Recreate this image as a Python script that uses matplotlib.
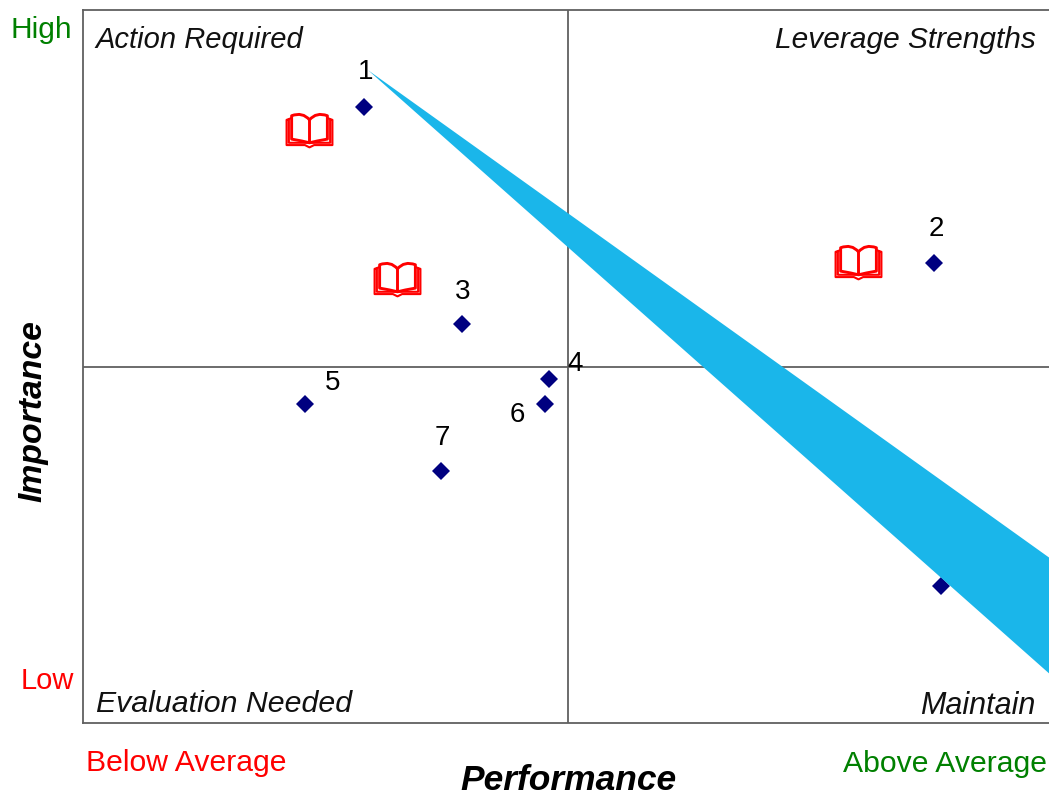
import matplotlib
matplotlib.use("Agg")
import matplotlib.pyplot as plt
from matplotlib.path import Path
from matplotlib.patches import Polygon

plt.rcParams["font.family"] = ["Liberation Sans", "DejaVu Sans"]

W, H = 1049, 799

# performance / importance, centred on the average (-1 to 1)
labels = ["1", "2", "3", "4", "5", "6", "7", "8"]
performance = [-0.420, 0.755, -0.219, -0.039, -0.542, -0.047, -0.262, 0.769]
importance = [0.729, 0.289, 0.118, -0.036, -0.104, -0.104, -0.292, -0.617]
label_dx = [1, 2, 1, 26, 27, -28, 1, 0]
label_dy = [35, 34, 32, 15, 21, -11, 33, 0]

book_x = [-0.534, 0.597, -0.352]
book_y = [0.665, 0.295, 0.247]

wedge_x = [-0.412, 0.992, 0.992]
wedge_y = [0.831, -0.536, -0.861]

quadrants = ["Action Required", "Leverage Strengths", "Evaluation Needed", "Maintain"]


def book_pages():
    """
    Inner outline of the open book marker: two pages with curved tops.
    """
    verts = [(0, 0.42), (-0.3, 0.78), (-0.78, 0.6), (-0.78, -0.42),
             (-0.3, -0.5), (0, -0.58), (0.3, -0.5), (0.78, -0.42),
             (0.78, 0.6), (0.3, 0.78), (0, 0.42), (0, -0.58)]
    codes = [Path.MOVETO, Path.CURVE3, Path.CURVE3, Path.LINETO,
             Path.CURVE3, Path.CURVE3, Path.CURVE3, Path.CURVE3,
             Path.LINETO, Path.CURVE3, Path.CURVE3, Path.LINETO]
    # keeps the marker scaled the same as the cover
    verts += [(-1, 0), (-1, 0)]
    codes += [Path.MOVETO, Path.LINETO]
    return Path(verts, codes)


def book_cover():
    """
    Outer outline of the open book marker.
    """
    verts = [(-0.78, 0.5), (-1, 0.42), (-1, -0.68), (-0.2, -0.68), (0, -0.78),
             (0.2, -0.68), (1, -0.68), (1, 0.42), (0.78, 0.5),
             (-0.9, 0.46), (-0.9, -0.58), (0.9, -0.58), (0.9, 0.46)]
    codes = [Path.MOVETO, Path.LINETO, Path.LINETO, Path.LINETO, Path.LINETO,
             Path.LINETO, Path.LINETO, Path.LINETO, Path.LINETO,
             Path.MOVETO, Path.LINETO, Path.LINETO, Path.LINETO]
    return Path(verts, codes)


def main():
    """
    Importance / performance quadrant chart.
    """
    fig = plt.figure(figsize=(W / 100, H / 100), dpi=100)
    ax = fig.add_axes([83 / W, (H - 723) / H, 970 / W, 713 / H])
    ax.set_xlim(-1, 1)
    ax.set_ylim(-1, 1)
    ax.set_xticks([])
    ax.set_yticks([])
    for spine in ax.spines.values():
        spine.set_color("#606060")
        spine.set_linewidth(1.3)

    ax.axvline(0, color="#606060", lw=1.3, zorder=1)
    ax.axhline(0, color="#606060", lw=1.3, zorder=1)

    ax.plot(performance, importance, ls="none", marker="D", ms=9,
            color="#000080", mew=0, zorder=2)
    ax.plot(book_x, book_y, ls="none", marker=book_cover(), ms=33,
            mfc="none", mec="#ff0000", mew=1.5, zorder=2)
    ax.plot(book_x, book_y, ls="none", marker=book_pages(), ms=33,
            mfc="none", mec="#ff0000", mew=2.1, zorder=2)

    for name, x, y, dx, dy in zip(labels, performance, importance, label_dx, label_dy):
        if name == "8":
            continue
        ax.annotate(name, (x, y), xytext=(dx * 0.72, dy * 0.72),
                    textcoords="offset points", ha="center", va="center",
                    fontsize=20, color="black", zorder=3)

    ax.add_patch(Polygon(list(zip(wedge_x, wedge_y)), closed=True,
                         facecolor="#1ab6ea", edgecolor="none", zorder=4))

    def put(px, py, text, **kw):
        fig.text(px / W, 1 - py / H, text, va="center", **kw)

    put(95, 40, quadrants[0], ha="left", fontsize=21, style="italic", color="#111111")
    put(1036, 40, quadrants[1], ha="right", fontsize=21.5, style="italic", color="#111111")
    put(96, 704, quadrants[2], ha="left", fontsize=21.8, style="italic", color="#111111")
    put(1035, 706, quadrants[3], ha="right", fontsize=22, style="italic", color="#111111")

    put(41, 30, "High", ha="center", fontsize=21.5, color="#008000")
    put(47, 681, "Low", ha="center", fontsize=21, color="#ff0000")
    put(86, 763, "Below Average", ha="left", fontsize=21.7, color="#ff0000")
    put(1047, 764, "Above Average", ha="right", fontsize=21.7, color="#008000")

    put(568, 781, "Performance", ha="center", fontsize=25.5, style="italic",
        weight="bold", color="black")
    put(33, 411, "Importance", ha="center", fontsize=24.3, style="italic",
        weight="bold", color="black", rotation=90)

    fig.savefig("out.png", dpi=100, facecolor="white")


if __name__ == "__main__":
    main()
